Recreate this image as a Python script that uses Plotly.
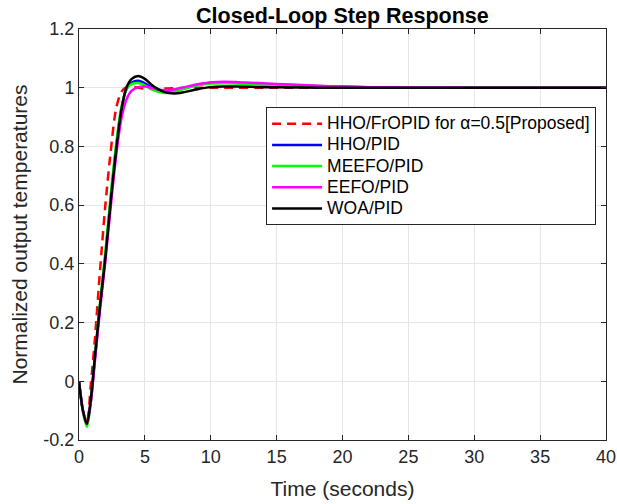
import plotly.graph_objects as go

t = [0, 0.3, 0.6, 0.9, 1.2, 1.6, 2.0, 2.4, 2.8, 3.2, 3.6, 4.0, 4.5, 5.0, 5.5, 6.0,
     6.5, 7.0, 7.5, 8, 9, 10, 11, 12, 14, 16, 18, 20, 22, 25, 30, 35, 40]

y_hho_fropid = [0, -0.10, -0.14, -0.01, 0.14, 0.38, 0.60, 0.78, 0.925, 0.985, 1.002, 1.004,
                1.0, 0.997, 0.996, 0.996, 0.997, 0.998, 0.999, 1.0, 1.0, 1.0, 1.0, 1.0,
                1.0, 1.0, 1.0, 1.0, 1.0, 1.0, 1.0, 1.0, 1.0]
y_hho_pid = [0, -0.10, -0.148, -0.065, 0.075, 0.26, 0.43, 0.62, 0.79, 0.925, 0.995, 1.018,
             1.024, 1.015, 1.0, 0.99, 0.986, 0.986, 0.99, 0.997, 1.01, 1.017, 1.018, 1.016,
             1.012, 1.009, 1.006, 1.004, 1.002, 1.001, 1.0, 1.0, 1.0]
y_meefo_pid = [0, -0.105, -0.155, -0.07, 0.08, 0.27, 0.44, 0.63, 0.80, 0.93, 0.995, 1.012,
               1.016, 1.008, 0.995, 0.986, 0.982, 0.984, 0.99, 0.997, 1.008, 1.014, 1.015, 1.014,
               1.011, 1.008, 1.005, 1.003, 1.002, 1.001, 1.0, 1.0, 1.0]
y_eefo_pid = [0, -0.10, -0.145, -0.07, 0.065, 0.245, 0.41, 0.59, 0.76, 0.89, 0.96, 0.99,
              1.002, 1.004, 1.0, 0.994, 0.992, 0.993, 0.997, 1.002, 1.012, 1.018, 1.02, 1.019,
              1.015, 1.011, 1.007, 1.004, 1.002, 1.001, 1.0, 1.0, 1.0]
y_woa_pid = [0, -0.10, -0.145, -0.06, 0.08, 0.26, 0.42, 0.61, 0.78, 0.92, 1.0, 1.03,
             1.04, 1.03, 1.01, 0.995, 0.985, 0.981, 0.981, 0.985, 0.995, 1.002, 1.004, 1.004,
             1.002, 1.001, 1.0, 1.0, 1.0, 1.0, 1.0, 1.0, 1.0]

names = ["HHO/FrOPID for α=0.5[Proposed]", "HHO/PID", "MEEFO/PID", "EEFO/PID", "WOA/PID"]
series = [y_hho_fropid, y_hho_pid, y_meefo_pid, y_eefo_pid, y_woa_pid]
colors = ["#ff0000", "#0000ff", "#00ff00", "#ff00ff", "#000000"]
dashes = ["9px,6px", "solid", "solid", "solid", "solid"]

x_ticks = [0, 5, 10, 15, 20, 25, 30, 35, 40]
y_ticks = [-0.2, 0, 0.2, 0.4, 0.6, 0.8, 1.0, 1.2]
y_ticklabels = ["-0.2", "0", "0.2", "0.4", "0.6", "0.8", "1", "1.2"]

fig = go.Figure()
for name, ys, c, d in zip(names, series, colors, dashes):
    fig.add_trace(go.Scatter(x=t, y=ys, mode="lines",
                             name='<span style="font-size:17.5px">' + name + '</span>',
                             line=dict(color=c, width=2.5, dash=d, shape="spline", smoothing=0.8)))

font = "Liberation Sans, Arial, sans-serif"
axis_common = dict(showline=True, linecolor="#262626", linewidth=1, mirror="allticks",
                   ticks="inside", ticklen=5, tickcolor="#262626", automargin=False,
                   showgrid=True, gridcolor="#e6e6e6", gridwidth=1, zeroline=False,
                   tickfont=dict(family=font, size=18, color="#262626"))

fig.update_layout(
    width=617, height=504,
    margin=dict(l=79, r=11, t=29, b=64),
    paper_bgcolor="white", plot_bgcolor="white",
    title=dict(text="<b>Closed-Loop Step Response</b>", x=0.555, xanchor="center",
               y=0.97, yanchor="middle", font=dict(family=font, size=21.5, color="black")),
    xaxis=dict(range=[0, 40], tickvals=x_ticks,
               title=dict(text="Time (seconds)", font=dict(family=font, size=21, color="#262626"), standoff=15),
               **axis_common),
    yaxis=dict(range=[-0.2, 1.2], tickvals=y_ticks, ticktext=y_ticklabels,
               title=dict(text="Normalized output temperatures", font=dict(family=font, size=21, color="#262626"), standoff=10),
               **axis_common),
    legend=dict(x=0.355, y=0.81, xanchor="left", yanchor="top",
                bgcolor="white", bordercolor="#262626", borderwidth=1,
                font=dict(family=font, size=14, color="black"),
                itemwidth=50, tracegroupgap=0),
    showlegend=True,
)

fig.write_html("out.html", config={"displayModeBar": False},
               post_script="document.body.style.margin='0';")
